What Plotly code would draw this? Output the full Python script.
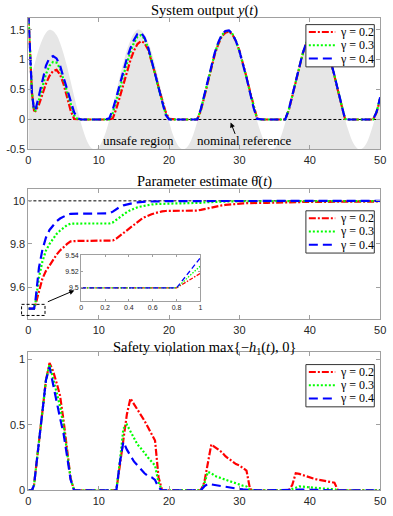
import plotly.graph_objects as go

# ---------------- data ----------------
# time grid shared by the simulated series
T = [0, 0.25, 0.5, 0.8] + [1.0 + 0.5 * k for k in range(99)]
# grid of the shaded reference boundary
t_ref = [0.5 * k for k in range(101)]
ref_boundary = [
    0.50, 0.75, 0.98, 1.18, 1.34, 1.45, 1.50, 1.48, 1.41, 1.28,
    1.10, 0.88, 0.64, 0.39, 0.15, -0.07, -0.26, -0.40, -0.48, -0.50,
    -0.46, -0.36, -0.21, -0.01, 0.22, 0.47, 0.72, 0.95, 1.16, 1.32,
    1.44, 1.50, 1.49, 1.42, 1.30, 1.13, 0.91, 0.67, 0.43, 0.18,
    -0.04, -0.24, -0.38, -0.47, -0.50, -0.47, -0.38, -0.23, -0.04, 0.19,
    0.43, 0.68, 0.92, 1.13, 1.30, 1.43, 1.49, 1.50, 1.44, 1.31,
    1.15, 0.95, 0.71, 0.46, 0.21, -0.02, -0.21, -0.36, -0.46, -0.50,
    -0.48, -0.39, -0.25, -0.06, 0.16, 0.40, 0.65, 0.89, 1.11, 1.28,
    1.41, 1.49, 1.50, 1.44, 1.34, 1.18, 0.97, 0.74, 0.49, 0.24,
    0.01, -0.19, -0.35, -0.45, -0.50, -0.48, -0.41, -0.27, -0.09, 0.13,
    0.37]
y_floor = -0.5
nominal_ref = 0.0
theta_true = 10.0

gammas = ["0.2", "0.3", "0.4"]

y_g02 = [1.75, 0.95, 0.45, 0.15, 0.14,
         0.25, 0.42, 0.60, 0.73, 0.81, 0.83, 0.75, 0.59, 0.37, 0.15,
         0.01, 0, 0, 0, 0, 0, 0, 0, 0, 0,
         0, 0.02, 0.18, 0.38, 0.59, 0.80, 0.99, 1.15, 1.26, 1.31,
         1.28, 1.17, 0.99, 0.77, 0.54, 0.32, 0.13, 0.01, 0, 0,
         0, 0, 0, 0, 0, 0, 0.14, 0.39, 0.64, 0.88,
         1.09, 1.26, 1.39, 1.45, 1.47, 1.42, 1.31, 1.15, 0.94, 0.71,
         0.47, 0.22, 0.02, 0, 0, 0, 0, 0, 0, 0,
         0, 0.15, 0.39, 0.64, 0.88, 1.10, 1.27, 1.40, 1.47, 1.48,
         1.43, 1.33, 1.17, 0.96, 0.73, 0.48, 0.23, 0.01, 0, 0,
         0, 0, 0, 0, 0, 0, 0.12, 0.35]
y_g03 = [1.75, 0.95, 0.45, 0.15, 0.15,
         0.33, 0.55, 0.76, 0.90, 0.96, 0.95, 0.85, 0.66, 0.45, 0.24,
         0.07, 0, 0, 0, 0, 0, 0, 0, 0, 0,
         0, 0.11, 0.30, 0.52, 0.74, 0.95, 1.13, 1.28, 1.38, 1.41,
         1.35, 1.20, 0.99, 0.76, 0.52, 0.29, 0.10, 0, 0, 0,
         0, 0, 0, 0, 0, 0, 0.16, 0.41, 0.66, 0.90,
         1.11, 1.28, 1.41, 1.47, 1.48, 1.43, 1.31, 1.14, 0.93, 0.70,
         0.46, 0.21, 0.01, 0, 0, 0, 0, 0, 0, 0,
         0, 0.16, 0.40, 0.65, 0.89, 1.10, 1.28, 1.41, 1.48, 1.49,
         1.44, 1.33, 1.17, 0.97, 0.74, 0.49, 0.24, 0.01, 0, 0,
         0, 0, 0, 0, 0, 0, 0.13, 0.36]
y_g04 = [1.75, 0.95, 0.45, 0.15, 0.16,
         0.40, 0.66, 0.90, 1.03, 1.06, 1.02, 0.90, 0.70, 0.50, 0.30,
         0.12, 0.02, 0, 0, 0, 0, 0, 0, 0, 0,
         0.02, 0.17, 0.37, 0.60, 0.81, 1.02, 1.19, 1.33, 1.43, 1.45,
         1.37, 1.21, 0.99, 0.75, 0.51, 0.28, 0.08, 0, 0, 0,
         0, 0, 0, 0, 0, 0, 0.17, 0.42, 0.67, 0.91,
         1.12, 1.29, 1.42, 1.48, 1.49, 1.43, 1.31, 1.14, 0.93, 0.70,
         0.45, 0.20, 0.01, 0, 0, 0, 0, 0, 0, 0,
         0, 0.16, 0.40, 0.65, 0.89, 1.11, 1.28, 1.41, 1.49, 1.50,
         1.44, 1.34, 1.18, 0.97, 0.74, 0.49, 0.24, 0.01, 0, 0,
         0, 0, 0, 0, 0, 0, 0.13, 0.37]

th_g02 = [9.5, 9.5, 9.5, 9.5, 9.518,
          9.585, 9.64, 9.675, 9.70, 9.727, 9.75, 9.77, 9.787, 9.80, 9.812,
          9.814, 9.814, 9.814, 9.814, 9.814, 9.814, 9.814, 9.814, 9.814, 9.814,
          9.814, 9.816, 9.825, 9.838, 9.853, 9.866, 9.879, 9.892, 9.904, 9.914,
          9.924, 9.932, 9.938, 9.943, 9.948, 9.951, 9.953, 9.954, 9.954, 9.954,
          9.954, 9.954, 9.954, 9.954, 9.954, 9.955, 9.958, 9.962, 9.966, 9.970,
          9.973, 9.976, 9.979, 9.981, 9.983, 9.985, 9.986, 9.987, 9.988, 9.989,
          9.990, 9.990, 9.991, 9.991, 9.991, 9.991, 9.991, 9.991, 9.991, 9.991,
          9.991, 9.992, 9.993, 9.994, 9.994, 9.995, 9.995, 9.995, 9.996, 9.996,
          9.996, 9.996, 9.996, 9.996, 9.996, 9.996, 9.997, 9.997, 9.997, 9.997,
          9.997, 9.997, 9.997, 9.997, 9.997, 9.997, 9.997, 9.997]
th_g03 = [9.5, 9.5, 9.5, 9.5, 9.527,
          9.645, 9.72, 9.77, 9.80, 9.825, 9.846, 9.862, 9.876, 9.887, 9.894,
          9.895, 9.895, 9.895, 9.895, 9.895, 9.895, 9.895, 9.895, 9.895, 9.895,
          9.895, 9.90, 9.912, 9.925, 9.938, 9.948, 9.957, 9.964, 9.970, 9.974,
          9.978, 9.981, 9.983, 9.985, 9.986, 9.987, 9.988, 9.988, 9.988, 9.988,
          9.988, 9.988, 9.988, 9.988, 9.988, 9.989, 9.991, 9.993, 9.994, 9.995,
          9.996, 9.996, 9.997, 9.997, 9.998, 9.998, 9.998, 9.998, 9.998, 9.998,
          9.998, 9.998, 9.998, 9.998, 9.998, 9.998, 9.998, 9.998, 9.998, 9.998,
          9.998, 9.998, 9.998, 9.998, 9.998, 9.999, 9.999, 9.999, 9.999, 9.999,
          9.999, 9.999, 9.999, 9.999, 9.999, 9.999, 9.999, 9.999, 9.999, 9.999,
          9.999, 9.999, 9.999, 9.999, 9.999, 9.999, 9.999, 9.999]
th_g04 = [9.5, 9.5, 9.5, 9.5, 9.537,
          9.69, 9.775, 9.83, 9.865, 9.887, 9.905, 9.918, 9.928, 9.935, 9.94,
          9.94, 9.94, 9.94, 9.94, 9.94, 9.94, 9.94, 9.94, 9.94, 9.94,
          9.942, 9.95, 9.962, 9.972, 9.979, 9.984, 9.988, 9.991, 9.993, 9.995,
          9.996, 9.997, 9.997, 9.998, 9.998, 9.999, 9.999, 9.999, 9.999, 9.999,
          9.999, 9.999, 10.0, 10.0, 10.0, 10.0, 10.0, 10.0, 10.0, 10.0,
          10.0, 10.0, 10.0, 10.0, 10.0, 10.0, 10.0, 10.0, 10.0, 10.0,
          10.0, 10.0, 10.0, 10.0, 10.0, 10.0, 10.0, 10.0, 10.0, 10.0,
          10.0, 10.0, 10.0, 10.0, 10.0, 10.0, 10.0, 10.0, 10.0, 10.0,
          10.0, 10.0, 10.0, 10.0, 10.0, 10.0, 10.0, 10.0, 10.0, 10.0,
          10.0, 10.0, 10.0, 10.0, 10.0, 10.0, 10.0, 10.0]

sv_g02 = [0, 0, 0, 0.04, 0.14,
          0.37, 0.61, 0.84, 0.97, 0.91, 0.82, 0.72, 0.53, 0.31, 0.09,
          0, 0, 0, 0, 0, 0, 0, 0, 0, 0,
          0, 0, 0, 0.19, 0.38, 0.58, 0.70, 0.66, 0.61, 0.57,
          0.53, 0.48, 0.43, 0.38, 0.10, 0, 0, 0, 0, 0,
          0, 0, 0, 0, 0, 0, 0, 0.06, 0.22, 0.35,
          0.33, 0.31, 0.29, 0.26, 0.24, 0.22, 0.20, 0.19, 0.17, 0.15,
          0.01, 0, 0, 0, 0, 0, 0, 0, 0, 0,
          0, 0, 0.04, 0.13, 0.125, 0.115, 0.105, 0.097, 0.09, 0.083,
          0.077, 0.072, 0.067, 0.062, 0.058, 0, 0, 0, 0, 0,
          0, 0, 0, 0, 0, 0, 0, 0]
sv_g03 = [0, 0, 0, 0.04, 0.14,
          0.37, 0.61, 0.84, 0.96, 0.86, 0.75, 0.64, 0.49, 0.30, 0.09,
          0, 0, 0, 0, 0, 0, 0, 0, 0, 0,
          0, 0, 0, 0.22, 0.47, 0.50, 0.45, 0.40, 0.35, 0.32,
          0.28, 0.25, 0.22, 0.19, 0.06, 0, 0, 0, 0, 0,
          0, 0, 0, 0, 0, 0, 0, 0.05, 0.14, 0.13,
          0.11, 0.10, 0.09, 0.08, 0.07, 0.06, 0.05, 0.045, 0.035, 0.03,
          0, 0, 0, 0, 0, 0, 0, 0, 0, 0,
          0, 0, 0.01, 0.02, 0.03, 0.028, 0.025, 0.022, 0.02, 0.017,
          0.015, 0.013, 0.011, 0.01, 0.008, 0, 0, 0, 0, 0,
          0, 0, 0, 0, 0, 0, 0, 0]
sv_g04 = [0, 0, 0, 0.04, 0.14,
          0.37, 0.61, 0.84, 0.94, 0.82, 0.68, 0.55, 0.43, 0.26, 0.08,
          0, 0, 0, 0, 0, 0, 0, 0, 0, 0,
          0, 0, 0, 0.21, 0.37, 0.31, 0.26, 0.22, 0.19, 0.16,
          0.13, 0.11, 0.10, 0.08, 0.02, 0, 0, 0, 0, 0,
          0, 0, 0, 0, 0, 0, 0, 0.03, 0.05, 0.045,
          0.04, 0.035, 0.03, 0.025, 0.02, 0.015, 0.012, 0.01, 0.007, 0.005,
          0, 0, 0, 0, 0, 0, 0, 0, 0, 0,
          0, 0, 0, 0.004, 0.006, 0.005, 0.005, 0.004, 0.004, 0.003,
          0.003, 0.002, 0.002, 0.001, 0.001, 0, 0, 0, 0, 0,
          0, 0, 0, 0, 0, 0, 0, 0]

x_ticks = [0, 10, 20, 30, 40, 50]
y1_ticks = [-0.5, 0, 0.5, 1, 1.5]
y1_labels = ["-0.5", "0", "0.5", "1", "1.5"]
y2_ticks = [9.6, 9.8, 10]
y2_labels = ["9.6", "9.8", "10"]
y3_ticks = [0, 0.5, 1]
y3_labels = ["0", "0.5", "1"]
in_x_ticks = [0, 0.2, 0.4, 0.6, 0.8, 1]
in_x_labels = ["0", "0.2", "0.4", "0.6", "0.8", "1"]
in_y_ticks = [9.5, 9.52, 9.54]
in_y_labels = ["9.5", "9.52", "9.54"]

# ---------------- style ----------------
W, H = 393, 516
colors = ["#ff0000", "#00ff00", "#0000ff"]
dashes = ["7px,2px,2px,2px", "2px,2px", "9px,5px"]
small_dashes = ["4px,1.5px,1.5px,1.5px", "1.5px,1.5px", "5px,3px"]
SANS = "Liberation Sans, Arial, sans-serif"
SERIF = "Liberation Serif, Times New Roman, serif"
AX = "#a0a0a0"
TXT = "#262626"


def px_x(p):
    return p / W


def px_y(p):
    return 1 - p / H


fig = go.Figure()

# panel 1: shaded region
fig.add_trace(go.Scatter(x=t_ref, y=[y_floor] * len(t_ref), mode="lines",
                         line=dict(width=0, color="rgba(0,0,0,0)"),
                         showlegend=False, hoverinfo="skip", xaxis="x", yaxis="y"))
fig.add_trace(go.Scatter(x=t_ref, y=ref_boundary, mode="lines", fill="tonexty",
                         fillcolor="#e6e6e6", line=dict(width=0, color="#e6e6e6"),
                         line_shape="spline",
                         showlegend=False, hoverinfo="skip", xaxis="x", yaxis="y"))
fig.add_trace(go.Scatter(x=[T[0], T[-1]], y=[nominal_ref, nominal_ref], mode="lines",
                         line=dict(color="black", width=1, dash="3px,2px"),
                         showlegend=False, xaxis="x", yaxis="y"))
fig.add_trace(go.Scatter(x=[T[0], T[-1]], y=[theta_true, theta_true], mode="lines",
                         line=dict(color="black", width=1, dash="3px,2px"),
                         showlegend=False, xaxis="x2", yaxis="y2"))

series_y = [y_g02, y_g03, y_g04]
series_th = [th_g02, th_g03, th_g04]
series_sv = [sv_g02, sv_g03, sv_g04]

for k, (series, xa, ya) in enumerate([(series_y, "x", "y"), (series_th, "x2", "y2"),
                                       (series_sv, "x3", "y3")]):
    for i, g in enumerate(gammas):
        fig.add_trace(go.Scatter(x=T, y=series[i], mode="lines", name="γ = " + g,
                                 line=dict(color=colors[i], width=2.2, dash=dashes[i]),
                                 showlegend=False, xaxis=xa, yaxis=ya))
# inset (zoom of theta on [0, 1])
for i, g in enumerate(gammas):
    fig.add_trace(go.Scatter(x=T, y=series_th[i], mode="lines",
                             line=dict(color=colors[i], width=1.3, dash=small_dashes[i]),
                             showlegend=False, xaxis="x4", yaxis="y4"))


def axstyle(**kw):
    d = dict(showline=True, linecolor=AX, linewidth=1, mirror="ticks",
             ticks="inside", ticklen=4, tickcolor=AX, tickwidth=1,
             showgrid=False, zeroline=False,
             tickfont=dict(family=SANS, size=11, color=TXT))
    d.update(kw)
    return d


xdom = [px_x(26), px_x(386)]
d1 = [px_y(149), px_y(15)]
d2 = [px_y(322), px_y(189.3)]
d3 = [px_y(496), px_y(355.7)]

fig.update_layout(
    width=W, height=H, autosize=False,
    margin=dict(l=0, r=0, t=0, b=0),
    paper_bgcolor="white", plot_bgcolor="white",
    showlegend=False,
    xaxis=axstyle(domain=xdom, anchor="y", range=[0, 50], tickvals=x_ticks),
    yaxis=axstyle(domain=d1, anchor="x", range=[-0.5, 1.7], tickvals=y1_ticks, ticktext=y1_labels),
    xaxis2=axstyle(domain=xdom, anchor="y2", range=[0, 50], tickvals=x_ticks),
    yaxis2=axstyle(domain=d2, anchor="x2", range=[9.45, 10.055], tickvals=y2_ticks, ticktext=y2_labels),
    xaxis3=axstyle(domain=xdom, anchor="y3", range=[0, 50], tickvals=x_ticks),
    yaxis3=axstyle(domain=d3, anchor="x3", range=[0, 1.05], tickvals=y3_ticks, ticktext=y3_labels),
    xaxis4=axstyle(domain=[px_x(80), px_x(202)], anchor="y4", range=[0, 1],
                   tickvals=in_x_ticks, ticktext=in_x_labels, ticklen=2,
                   tickfont=dict(family=SANS, size=7, color=TXT)),
    yaxis4=axstyle(domain=[px_y(303.3), px_y(256)], anchor="x4", range=[9.484, 9.541],
                   tickvals=in_y_ticks, ticktext=in_y_labels, ticklen=2,
                   tickfont=dict(family=SANS, size=7, color=TXT)),
)

# legends (boxed, top right of each panel)
for top in [22, 211.5, 368]:
    fig.add_shape(type="rect", xref="paper", yref="paper",
                  x0=px_x(310), x1=px_x(380), y0=px_y(top + 43), y1=px_y(top),
                  line=dict(color="#333333", width=1), fillcolor="white", layer="above")
    for i, g in enumerate(gammas):
        yy = top + 7.5 + 13.5 * i
        fig.add_shape(type="line", xref="paper", yref="paper",
                      x0=px_x(313), x1=px_x(340), y0=px_y(yy), y1=px_y(yy),
                      line=dict(color=colors[i], width=2, dash=dashes[i]), layer="above")
        fig.add_annotation(text="γ = " + g, x=px_x(343), y=px_y(yy), xref="paper", yref="paper",
                           xanchor="left", yanchor="middle", showarrow=False,
                           font=dict(family=SERIF, size=12, color="black"))

# titles
titles = ["System output <i>y</i>(<i>t</i>)",
          "Parameter estimate θ̂(<i>t</i>)",
          "Safety violation max{−<i>h</i><sub>1</sub>(<i>t</i>), 0}"]
title_y = [8, 181.5, 351.5]
for txt, yy in zip(titles, title_y):
    fig.add_annotation(text=txt, x=px_x(206), y=px_y(yy), xref="paper", yref="paper",
                       xanchor="center", yanchor="middle", showarrow=False,
                       font=dict(family=SERIF, size=14.5, color="black"))

# panel 1 labels
fig.add_annotation(text="unsafe region", x=px_x(139), y=px_y(140), xref="paper", yref="paper",
                   xanchor="center", yanchor="middle",
                   showarrow=False, font=dict(family=SERIF, size=13, color="black"))
fig.add_annotation(text="nominal reference", x=px_x(247), y=px_y(140), xref="paper", yref="paper",
                   xanchor="center", yanchor="middle",
                   showarrow=False, font=dict(family=SERIF, size=13, color="black"))
fig.add_annotation(text="", x=px_x(233), y=px_y(121.5), xref="paper", yref="paper",
                   ax=5, ay=13, showarrow=True, arrowhead=2, arrowsize=1,
                   arrowwidth=1, arrowcolor="black")

# inset marker: dashed box + arrow
fig.add_shape(type="rect", xref="paper", yref="paper",
              x0=px_x(19), x1=px_x(43), y0=px_y(318), y1=px_y(306.7),
              line=dict(color="black", width=1, dash="3px,2px"))
fig.add_annotation(text="", x=px_x(73), y=px_y(292.5), xref="paper", yref="paper",
                   ax=-28, ay=12, showarrow=True, arrowhead=2, arrowsize=1,
                   arrowwidth=1, arrowcolor="black")

fig.write_html("out.html", config={"displayModeBar": False},
               post_script="document.body.style.margin='0px';")
